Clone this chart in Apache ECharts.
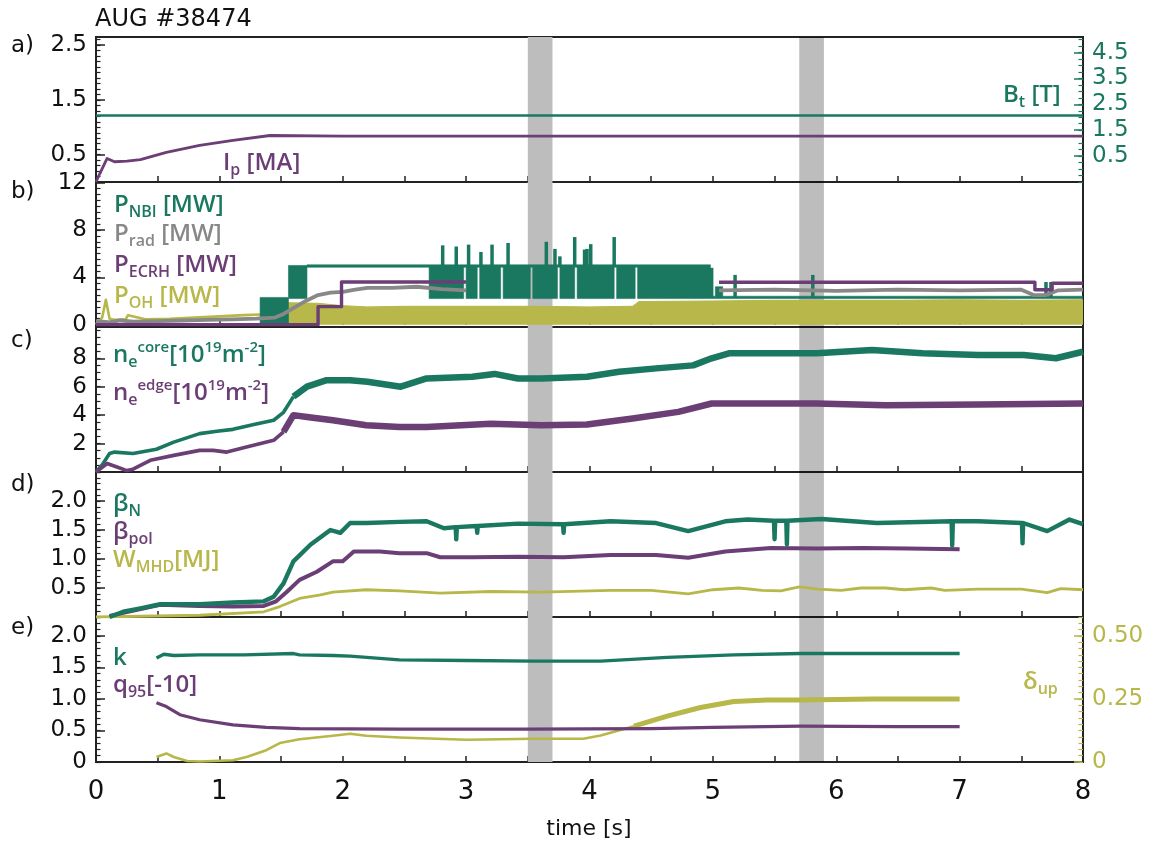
<!DOCTYPE html>
<html>
<head>
<meta charset="utf-8">
<title>AUG #38474</title>
<script src="https://cdn.jsdelivr.net/npm/echarts@6/dist/echarts.min.js"></script>
<style>
  html, body { margin: 0; padding: 0; background: #ffffff; }
  #chart { width: 1158px; height: 846px; }
</style>
</head>
<body>
<div id="chart"></div>
<script>
// ---- time windows highlighted in every panel [s]
const bandWindows = [[3.5, 3.7], [5.7, 5.9]];

// ---- a) plasma current [MA] and toroidal field [T]
const ipT = [0, 0.03, 0.09, 0.15, 0.25, 0.36, 0.57, 0.84, 1.11, 1.41, 2.0, 3.0, 4.0, 5.0, 6.0, 7.0, 8.0];
const ipV = [0, 0.15, 0.43, 0.37, 0.38, 0.41, 0.54, 0.67, 0.76, 0.85, 0.84, 0.84, 0.84, 0.84, 0.84, 0.84, 0.84];
const btT = [0, 2, 4, 6, 8];
const btV = [2.07, 2.07, 2.07, 2.07, 2.07];

// ---- b) heating and radiated power [MW]
// NBI: envelope of the modulated signal (lower / upper bound)
const nbiT  = [0, 1.33, 1.33, 1.56, 1.56, 1.71, 1.71, 2.70, 2.70,
               2.98, 2.98, 3.00, 3.00, 3.09, 3.09, 3.11, 3.11, 3.28, 3.28, 3.30, 3.30,
               3.52, 3.52, 3.54, 3.54, 3.74, 3.74, 3.76, 3.76, 3.88, 3.88, 3.90, 3.90,
               4.20, 4.20, 4.22, 4.22, 4.37, 4.37, 4.39, 4.39,
               4.98, 4.98, 5.02, 5.02, 5.08, 5.08, 8.0];
const nbiLo = [0, 0, 0, 0, 2.2, 2.2, 4.85, 4.85, 2.2,
               2.2, 4.85, 4.85, 2.2, 2.2, 4.85, 4.85, 2.2, 2.2, 4.85, 4.85, 2.2,
               2.2, 4.85, 4.85, 2.2, 2.2, 4.85, 4.85, 2.2, 2.2, 4.85, 4.85, 2.2,
               2.2, 4.85, 4.85, 2.2, 2.2, 4.85, 4.85, 2.2,
               2.2, 2.2, 2.2, 2.2, 2.2, 2.2, 2.2];
const nbiHi = [0, 0, 2.3, 2.3, 5.0, 5.0, 5.05, 5.05, 5.05,
               5.05, 5.05, 5.05, 5.05, 5.05, 5.05, 5.05, 5.05, 5.05, 5.05, 5.05, 5.05,
               5.05, 5.05, 5.05, 5.05, 5.05, 5.05, 5.05, 5.05, 5.05, 5.05, 5.05, 5.05,
               5.05, 5.05, 5.05, 5.05, 5.05, 5.05, 5.05, 5.05,
               5.05, 2.4, 2.4, 3.2, 3.2, 2.4, 2.4];
const nbiSpikeT    = [2.81, 2.92, 3.02, 3.12, 3.21, 3.34, 3.65, 3.72, 3.76, 3.88, 3.96, 3.98, 4.01, 4.20, 4.99, 5.18, 5.81, 7.70, 7.74];
const nbiSpikeBase = [5.0, 5.0, 5.0, 5.0, 5.0, 5.0, 5.0, 5.0, 5.0, 5.0, 5.0, 5.0, 5.0, 5.0, 2.3, 2.3, 2.3, 2.3, 2.3];
const nbiSpikePeak = [6.7, 6.6, 6.76, 6.14, 6.76, 6.9, 7.0, 6.4, 5.77, 7.4, 6.34, 6.4, 6.8, 7.4, 4.8, 4.2, 4.2, 3.6, 3.6];
const radT = [0, 0.1, 0.2, 0.3, 0.5, 0.7, 0.9, 1.1, 1.3, 1.45, 1.52, 1.6, 1.7, 1.8, 1.9, 2.0, 2.1, 2.2, 2.4, 2.6, 2.8, 3.0, 3.0, 5.05, 5.5, 6.0, 6.5, 7.0, 7.5, 7.6, 7.7, 7.8, 8.0];
const radV = [0.3, 0.2, 0.35, 0.25, 0.3, 0.35, 0.4, 0.45, 0.5, 0.6, 0.9, 1.4, 2.0, 2.5, 2.7, 2.76, 2.96, 3.1, 3.1, 3.2, 3.0, 2.9, null, 2.9, 2.95, 2.85, 2.95, 2.9, 2.95, 2.5, 2.5, 2.9, 2.95];
const ecrhT = [0, 1.80, 1.80, 1.99, 1.99, 3.0, 3.0, 5.05, 7.61, 7.61, 7.75, 7.75, 8.0];
const ecrhV = [0, 0, 1.52, 1.52, 3.6, 3.6, null, 3.58, 3.58, 2.95, 2.95, 3.5, 3.5];
const ohT = [0, 0.05, 0.08, 0.11, 0.15, 0.24, 0.26, 0.4, 0.6, 0.8, 1.0, 1.2, 1.33];
const ohV = [0, 0.6, 2.1, 0.5, 0.4, 0.45, 0.8, 0.45, 0.5, 0.6, 0.7, 0.8, 0.85];
const ohFillT = [1.56, 1.56, 1.8, 1.8, 2.0, 2.2, 2.5, 3.0, 3.5, 4.0, 4.35, 4.4, 5.0, 5.5, 6.0, 6.5, 7.0, 7.5, 8.0];
const ohFillV = [0, 1.85, 1.8, 1.65, 1.6, 1.5, 1.55, 1.55, 1.55, 1.5, 1.55, 1.95, 2.0, 2.05, 2.05, 2.05, 2.1, 2.05, 2.1];

// ---- c) line-integrated densities [1e19 m^-2]
const coreT = [0, 0.05, 0.11, 0.15, 0.3, 0.49, 0.63, 0.84, 0.98, 1.11, 1.28, 1.44, 1.52, 1.60, 1.71, 1.87, 2.06, 2.2, 2.47, 2.68, 3.05, 3.23, 3.42, 3.61, 3.98, 4.24, 4.54, 4.84, 4.99, 5.13, 5.47, 5.84, 6.29, 6.70, 7.15, 7.52, 7.78, 8.0];
const coreV = [0, 0.5, 1.3, 1.4, 1.3, 1.6, 2.1, 2.7, 2.87, 3.0, 3.34, 3.64, 4.2, 5.3, 6.0, 6.46, 6.46, 6.35, 6.0, 6.58, 6.7, 6.9, 6.58, 6.58, 6.7, 7.05, 7.29, 7.5, 8.0, 8.35, 8.35, 8.35, 8.58, 8.35, 8.23, 8.23, 8.0, 8.46];
const edgeT = [0, 0.09, 0.17, 0.25, 0.30, 0.44, 0.63, 0.84, 0.95, 1.06, 1.22, 1.44, 1.52, 1.60, 1.71, 1.92, 2.19, 2.46, 2.68, 3.20, 3.61, 3.98, 4.35, 4.72, 4.99, 5.28, 5.84, 6.40, 7.15, 8.0];
const edgeV = [0, 0.6, 0.35, 0.1, 0.2, 0.82, 1.17, 1.52, 1.52, 1.4, 1.76, 2.23, 2.82, 4.0, 3.87, 3.64, 3.29, 3.17, 3.17, 3.4, 3.29, 3.34, 3.76, 4.23, 4.82, 4.82, 4.82, 4.7, 4.75, 4.82];

// ---- d) normalised beta, poloidal beta, stored energy [MJ]
const betaNT = [0.11, 0.22, 0.36, 0.52, 0.84, 1.11, 1.36, 1.44, 1.52, 1.60, 1.74, 1.90, 1.98, 2.06, 2.19, 2.46, 2.68, 2.82, 2.915, 2.92, 2.925, 3.085, 3.09, 3.095, 3.42, 3.785, 3.79, 3.795, 4.17, 4.54, 4.80, 5.10, 5.28, 5.495, 5.50, 5.505, 5.595, 5.60, 5.605, 5.88, 6.33, 6.935, 6.94, 6.945, 7.15, 7.505, 7.51, 7.515, 7.71, 7.89, 8.0];
const betaNV = [0, 0.09, 0.15, 0.22, 0.22, 0.25, 0.27, 0.35, 0.58, 0.96, 1.25, 1.5, 1.45, 1.62, 1.62, 1.64, 1.65, 1.53, 1.55, 1.34, 1.55, 1.57, 1.45, 1.57, 1.61, 1.6, 1.45, 1.6, 1.65, 1.62, 1.48, 1.65, 1.68, 1.66, 1.34, 1.66, 1.66, 1.25, 1.66, 1.69, 1.62, 1.65, 1.23, 1.65, 1.65, 1.62, 1.27, 1.62, 1.48, 1.68, 1.6];
const betaPT = [0.11, 0.52, 0.84, 1.11, 1.36, 1.46, 1.55, 1.65, 1.79, 1.92, 2.0, 2.09, 2.30, 2.46, 2.68, 2.79, 3.05, 3.42, 3.79, 4.17, 4.54, 4.80, 5.10, 5.47, 5.84, 6.21, 6.58, 7.0];
const betaPV = [0.02, 0.21, 0.19, 0.18, 0.19, 0.27, 0.44, 0.64, 0.78, 0.96, 0.96, 1.13, 1.13, 1.10, 1.10, 1.03, 1.03, 1.04, 1.03, 1.07, 1.07, 1.02, 1.13, 1.19, 1.18, 1.19, 1.18, 1.17];
const wmhdT = [0, 0.84, 1.36, 1.49, 1.65, 1.82, 1.92, 2.19, 2.46, 2.79, 3.2, 3.61, 4.17, 4.5, 4.80, 5.0, 5.21, 5.40, 5.55, 5.70, 5.85, 6.04, 6.2, 6.40, 6.55, 6.77, 6.88, 7.15, 7.5, 7.71, 7.82, 8.0];
const wmhdV = [0.0, 0.03, 0.09, 0.18, 0.32, 0.38, 0.43, 0.47, 0.45, 0.41, 0.44, 0.43, 0.46, 0.46, 0.40, 0.47, 0.50, 0.46, 0.45, 0.52, 0.48, 0.46, 0.50, 0.50, 0.47, 0.50, 0.46, 0.48, 0.48, 0.42, 0.49, 0.47];

// ---- e) elongation, q95 / -10, upper triangularity
const kappaT = [0.49, 0.55, 0.63, 0.84, 1.2, 1.60, 1.65, 1.92, 2.06, 2.46, 3.0, 3.55, 4.09, 4.63, 5.17, 5.71, 6.3, 7.0];
const kappaV = [1.65, 1.71, 1.69, 1.70, 1.70, 1.72, 1.70, 1.69, 1.68, 1.62, 1.61, 1.6, 1.6, 1.66, 1.70, 1.72, 1.72, 1.72];
const q95T = [0.49, 0.57, 0.68, 0.84, 1.11, 1.38, 1.65, 2.46, 3.5, 4.5, 5.0, 5.71, 6.5, 7.0];
const q95V = [0.94, 0.88, 0.75, 0.67, 0.59, 0.55, 0.53, 0.52, 0.52, 0.53, 0.55, 0.57, 0.56, 0.56];
const deltaT = [0.49, 0.57, 0.63, 0.74, 0.84, 1.11, 1.22, 1.38, 1.49, 1.65, 1.92, 2.06, 2.19, 2.46, 3.0, 3.55, 3.95, 4.09, 4.36, 4.63, 4.90, 5.17, 5.44, 5.71, 6.3, 7.0];
const deltaV = [0.02, 0.034, 0.02, 0.004, 0.002, 0.007, 0.02, 0.047, 0.075, 0.09, 0.104, 0.112, 0.104, 0.097, 0.088, 0.092, 0.092, 0.105, 0.142, 0.182, 0.216, 0.24, 0.246, 0.246, 0.25, 0.25];

// ---- tick labels
const xLabels = [0, 1, 2, 3, 4, 5, 6, 7, 8];
const aLeftLabels = [0.5, 1.5, 2.5];
const aRightLabels = [0.5, 1.5, 2.5, 3.5, 4.5];
const bLabels = [0, 4, 8, 12];
const cLabels = [2, 4, 6, 8];
const dLabels = [0.5, 1.0, 1.5, 2.0];
const eLeftLabels = [0, 0.5, 1.0, 1.5, 2.0];
const eRightLabels = [0, 0.25, 0.5];

// ---------------------------------------------------------------------------
const FONT = 'DejaVu Sans';
const LEG_FONT = 'Open Sans';
const COL = { green: '#1b7860', purple: '#6b3e75', gray: '#888888', yellow: '#b7b74a', axis: '#222222' };
const PANEL_TOP = [37, 182, 327, 472, 617];
const PANEL_H = 145;

const grids = PANEL_TOP.map(top => ({
  left: 96, right: 75, top: top, height: PANEL_H,
  show: true, borderColor: COL.axis, borderWidth: 2, backgroundColor: 'transparent'
}));

const xAxes = PANEL_TOP.map((_, i) => ({
  type: 'value', gridIndex: i, min: 0, max: 8, interval: 0.5,
  axisLine: { show: false }, splitLine: { show: false },
  axisTick: { show: true, inside: true, length: 6, lineStyle: { color: COL.axis, width: 1.5 } },
  axisLabel: i === 4 ? {
    show: true, customValues: xLabels, formatter: v => String(v),
    fontFamily: FONT, fontSize: 26, color: '#111', margin: 17
  } : { show: false }
}));

const yAxes = [];
function addY(grid, pos, min, max, labels, fmt, minorStep, tickColor, labelColor) {
  const idx = yAxes.length;
  const minors = [];
  for (let k = Math.ceil(min / minorStep - 1e-9); k * minorStep <= max + 1e-9; k++) {
    minors.push(+(k * minorStep).toFixed(4));
  }
  yAxes.push({
    type: 'value', gridIndex: grid, position: pos, min: min, max: max,
    axisLine: { show: false }, splitLine: { show: false },
    axisTick: { show: true, inside: true, length: 9, customValues: labels, lineStyle: { color: tickColor, width: 1.5 } },
    axisLabel: { show: true, customValues: labels, formatter: fmt, fontFamily: FONT, fontSize: 23, color: labelColor, margin: 9 }
  });
  yAxes.push({
    type: 'value', gridIndex: grid, position: pos, min: min, max: max,
    axisLine: { show: false }, splitLine: { show: false },
    axisTick: { show: true, inside: true, length: 4.5, customValues: minors, lineStyle: { color: tickColor, width: 1.2 } },
    axisLabel: { show: false }
  });
  return idx;
}

const yA  = addY(0, 'left', 0, 2.65, aLeftLabels, v => v.toFixed(1), 0.1, COL.axis, '#111');
const yAr = addY(0, 'right', -0.5, 5.1, aRightLabels, v => v.toFixed(1), 0.25, COL.green, COL.green);
const yB  = addY(1, 'left', -0.2, 12.05, bLabels, v => String(v), 0.5, COL.axis, '#111');
const yC  = addY(2, 'left', 0, 10.2, cLabels, v => String(v), 0.5, COL.axis, '#111');
const yD  = addY(3, 'left', 0, 2.5, dLabels, v => v.toFixed(1), 0.1, COL.axis, '#111');
const yE  = addY(4, 'left', 0, 2.3, eLeftLabels, v => (v === 0 ? '0' : v.toFixed(1)), 0.1, COL.axis, '#111');
const yEr = addY(4, 'right', 0, 0.575, eRightLabels, v => (v === 0 ? '0' : v.toFixed(2)), 0.025, COL.yellow, COL.yellow);

const panelY = [yA, yB, yC, yD, yE];

function pairs(t, v) {
  return t.map((x, i) => [x, v[i] === null ? '-' : v[i]]);
}
// a trace drawn over the samples [from, to] of its arrays
function line(grid, yIdx, t, v, color, width, z, from, to) {
  const a = from || 0;
  const b = to === undefined ? t.length : to + 1;
  return {
    type: 'line', xAxisIndex: grid, yAxisIndex: yIdx, data: pairs(t.slice(a, b), v.slice(a, b)),
    symbol: 'none', showSymbol: false, connectNulls: false, clip: true,
    lineStyle: { color: color, width: width, join: 'round', cap: 'butt' }, itemStyle: { color: color },
    z: z || 3, silent: true, animation: false
  };
}
function filled(grid, yIdx, t, v, color, z) {
  const s = line(grid, yIdx, t, v, color, 1, z);
  s.areaStyle = { color: color, opacity: 1, origin: 0 };
  return s;
}
// polygon between a lower and an upper envelope
function envelope(grid, yIdx, t, lo, hi, color, z) {
  return {
    type: 'custom', xAxisIndex: grid, yAxisIndex: yIdx, clip: true, silent: true, animation: false, z: z || 3,
    data: [[t[0], hi[0]]],
    renderItem: function (params, api) {
      const pts = [];
      for (let i = 0; i < t.length; i++) pts.push(api.coord([t[i], hi[i]]));
      for (let i = t.length - 1; i >= 0; i--) pts.push(api.coord([t[i], lo[i]]));
      return { type: 'polygon', shape: { points: pts }, style: { fill: color, stroke: color, lineWidth: 0.6 } };
    }
  };
}
// vertical spikes from base to peak
function spikes(grid, yIdx, t, base, peak, color, z) {
  return {
    type: 'custom', xAxisIndex: grid, yAxisIndex: yIdx, clip: true, silent: true, animation: false, z: z || 3,
    data: t.map((x, i) => [x, base[i], peak[i]]),
    encode: { x: 0, y: [1, 2] },
    renderItem: function (params, api) {
      const a = api.coord([api.value(0), api.value(1)]);
      const b = api.coord([api.value(0), api.value(2)]);
      return { type: 'line', shape: { x1: a[0], y1: a[1], x2: b[0], y2: b[1] }, style: { stroke: color, lineWidth: 3.5 } };
    }
  };
}
function windowShade(grid, yIdx, win, color, z) {
  return {
    type: 'line', xAxisIndex: grid, yAxisIndex: yIdx, data: [], z: z, silent: true, animation: false,
    markArea: { silent: true, animation: false, itemStyle: { color: color, borderWidth: 0 },
      data: [[{ xAxis: win[0] }, { xAxis: win[1] }]] }
  };
}

const series = [];
for (let g = 0; g < 5; g++) {
  series.push(windowShade(g, panelY[g], bandWindows[0], '#bdbdbd', 1));
  series.push(windowShade(g, panelY[g], bandWindows[1], 'rgba(0,0,0,0.26)', 20));
}
// a)
series.push(line(0, yAr, btT, btV, COL.green, 2.4));
series.push(line(0, yA, ipT, ipV, COL.purple, 2.8));
// b)
series.push(line(1, yB, ohT, ohV, COL.yellow, 2.6));
series.push(filled(1, yB, ohFillT, ohFillV, COL.yellow));
series.push(envelope(1, yB, nbiT, nbiLo, nbiHi, COL.green, 4));
series.push(spikes(1, yB, nbiSpikeT, nbiSpikeBase, nbiSpikePeak, COL.green, 4));
series.push(line(1, yB, radT, radV, COL.gray, 3.8, 5));
series.push(line(1, yB, ecrhT, ecrhV, COL.purple, 3.4, 6));
// c) thinner before the density rise, noisier afterwards
series.push(line(2, yC, coreT, coreV, COL.green, 3.6, 3, 0, 13));
series.push(line(2, yC, coreT, coreV, COL.green, 6.5, 3, 13));
series.push(line(2, yC, edgeT, edgeV, COL.purple, 3.6, 3, 0, 12));
series.push(line(2, yC, edgeT, edgeV, COL.purple, 6.5, 3, 12));
// d)
series.push(line(3, yD, wmhdT, wmhdV, COL.yellow, 2.8));
series.push(line(3, yD, betaPT, betaPV, COL.purple, 4));
series.push(line(3, yD, betaNT, betaNV, COL.green, 4.4));
// e)
series.push(line(4, yEr, deltaT, deltaV, COL.yellow, 2.6, 3, 0, 18));
series.push(line(4, yEr, deltaT, deltaV, COL.yellow, 5, 3, 18));
series.push(line(4, yE, q95T, q95V, COL.purple, 3.2));
series.push(line(4, yE, kappaT, kappaV, COL.green, 3.4));

// text labels
function legendText(x, y, text, color) {
  return {
    type: 'text', x: x, y: y, z: 100, silent: true,
    style: {
      text: text, fill: color, align: 'left', verticalAlign: 'top',
      rich: {
        m: { fontFamily: LEG_FONT, fontWeight: 600, fontSize: 24, lineHeight: 30, fill: color, color: color },
        s: { fontFamily: LEG_FONT, fontWeight: 600, fontSize: 16, verticalAlign: 'bottom', fill: color, color: color },
        u: { fontFamily: LEG_FONT, fontWeight: 600, fontSize: 15, verticalAlign: 'top', fill: color, color: color }
      }
    }
  };
}
function plainText(x, y, text, size, color, align) {
  return {
    type: 'text', x: x, y: y, z: 100, silent: true,
    style: { text: text, fill: color, font: size + 'px "' + FONT + '"', align: align || 'left', verticalAlign: 'middle' }
  };
}

const graphic = [
  plainText(95, 20, 'AUG #38474', 24, '#111'),
  plainText(11, 46, 'a)', 23, '#111'),
  plainText(11, 192, 'b)', 23, '#111'),
  plainText(11, 341, 'c)', 23, '#111'),
  plainText(11, 485, 'd)', 23, '#111'),
  plainText(11, 628, 'e)', 23, '#111'),
  plainText(589, 829, 'time [s]', 22, '#111', 'center'),
  legendText(223, 148, '{m|I}{s|p}{m| [MA]}', COL.purple),
  legendText(1003, 80, '{m|B}{s|t}{m| [T]}', COL.green),
  legendText(114, 190, '{m|P}{s|NBI}{m| [MW]}', COL.green),
  legendText(114, 219, '{m|P}{s|rad}{m| [MW]}', COL.gray),
  legendText(114, 250, '{m|P}{s|ECRH}{m| [MW]}', COL.purple),
  legendText(114, 281, '{m|P}{s|OH}{m| [MW]}', COL.yellow),
  legendText(113, 340, '{m|n}{s|e}{u|core}{m|[10}{u|19}{m|m}{u|-2}{m|]}', COL.green),
  legendText(113, 378, '{m|n}{s|e}{u|edge}{m|[10}{u|19}{m|m}{u|-2}{m|]}', COL.purple),
  legendText(113, 489, '{m|β}{s|N}', COL.green),
  legendText(113, 517, '{m|β}{s|pol}', COL.purple),
  legendText(113, 545, '{m|W}{s|MHD}{m|[MJ]}', COL.yellow),
  legendText(113, 643, '{m|k}', COL.green),
  legendText(113, 670, '{m|q}{s|95}{m|[-10]}', COL.purple),
  legendText(1023, 667, '{m|δ}{s|up}', COL.yellow)
];

const chart = echarts.init(document.getElementById('chart'), null, { renderer: 'canvas' });
chart.setOption({
  animation: false,
  backgroundColor: '#ffffff',
  grid: grids,
  xAxis: xAxes,
  yAxis: yAxes,
  series: series,
  graphic: graphic
});
</script>
</body>
</html>
